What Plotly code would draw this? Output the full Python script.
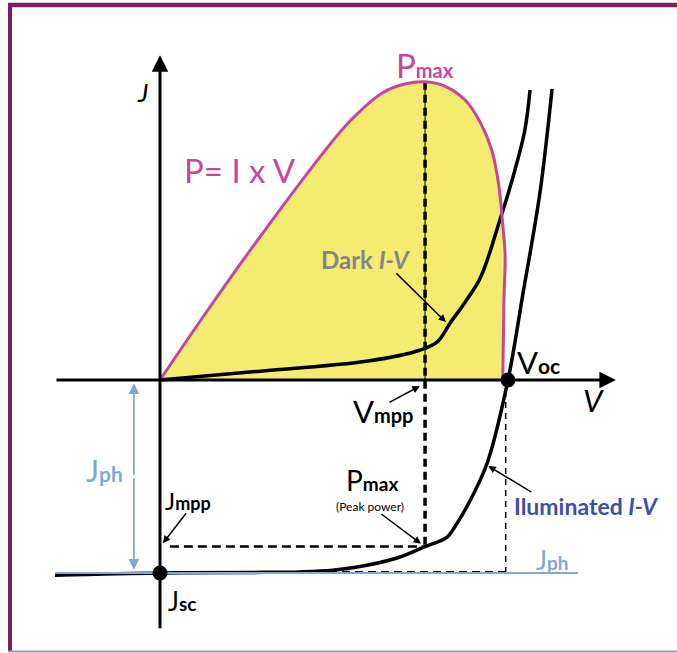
import plotly.graph_objects as go

# ---- Solar cell J-V characteristics (V in volts, J in mA/cm^2, P in mW/cm^2) ----
V_OC = 0.600
J_SC = -35.0
J_PH = 35.0
V_MPP = 0.457
J_MPP = -30.2

# Illuminated J-V curve
illum_v = [-0.181, 0.000, 0.155, 0.241, 0.298, 0.357, 0.414, 0.457, 0.478,
           0.495, 0.512, 0.529, 0.564, 0.600, 0.626, 0.655, 0.676]
illum_j = [-35.4, -35.0, -34.9, -34.8, -34.5, -33.6, -32.1, -30.2, -29.4,
           -28.5, -26.0, -23.0, -15.1, 0.0, 15.8, 33.9, 52.8]

# Dark J-V curve
dark_v = [0.000, 0.155, 0.359, 0.448, 0.478, 0.500, 0.526, 0.553, 0.586,
          0.612, 0.629, 0.638]
dark_j = [0.0, 1.45, 3.45, 5.4, 6.9, 10.3, 14.1, 18.7, 29.0, 38.1, 45.3, 52.6]

# Output power P = I x V
pwr_v = [0.000, 0.069, 0.138, 0.207, 0.276, 0.328, 0.384, 0.422, 0.457,
         0.491, 0.526, 0.552, 0.572, 0.584, 0.591, 0.595, 0.593, 0.591]
pwr_p = [0.0, 2.72, 5.35, 7.89, 10.33, 12.00, 13.30, 13.70, 13.81,
         13.61, 12.96, 11.94, 10.65, 9.03, 7.18, 5.79, 3.70, 0.0]
P_MAX = max(pwr_p)

# ---- layout scales ----
W, H = 677, 653
PX_PER_V = 580.0          # horizontal pixels per volt
PX_PER_J = 5.514          # vertical pixels per mA/cm^2
PX_PER_P = 21.6           # vertical pixels per mW/cm^2
ORIGIN_X, ORIGIN_Y = 160.0, 380.0
P_TO_J = PX_PER_P / PX_PER_J   # power drawn on the current axis

x_range = [-ORIGIN_X / PX_PER_V, (W - ORIGIN_X) / PX_PER_V]
y_range = [-(H - ORIGIN_Y) / PX_PER_J, ORIGIN_Y / PX_PER_J]

MAGENTA = "#C4479E"
YELLOW = "#F4EC70"
GRAY = "#858585"
BLUE_TXT = "#3E4FA4"
LIGHT_BLUE = "#7FA7DB"
FRAME = "#7A1E5E"
FONT = "Lato"
SMOOTH = 1.0

pwr_j = [p * P_TO_J for p in pwr_p]

fig = go.Figure()

# yellow power area
fig.add_trace(go.Scatter(x=pwr_v, y=pwr_j, mode="lines", fill="toself",
                         fillcolor=YELLOW, line=dict(width=0, shape="spline", smoothing=SMOOTH),
                         hoverinfo="skip"))

# thin guide inside the power area
fig.add_trace(go.Scatter(x=[V_MPP, V_MPP], y=[P_MAX * P_TO_J, 0], mode="lines",
                         line=dict(color="black", width=1), hoverinfo="skip"))

# dashed guides
fig.add_trace(go.Scatter(x=[V_MPP, V_MPP], y=[P_MAX * P_TO_J, J_MPP], mode="lines",
                         line=dict(color="black", width=3.5, dash="8px,5px"), hoverinfo="skip"))
fig.add_trace(go.Scatter(x=[0.017, V_MPP], y=[J_MPP, J_MPP], mode="lines",
                         line=dict(color="black", width=2.5, dash="9px,5px"), hoverinfo="skip"))
fig.add_trace(go.Scatter(x=[V_OC - 0.004, V_OC - 0.004], y=[0, J_SC + 0.2], mode="lines",
                         line=dict(color="black", width=1.5, dash="6px,5px"), hoverinfo="skip"))
fig.add_trace(go.Scatter(x=[0, V_OC - 0.004], y=[J_SC + 0.2, J_SC + 0.2], mode="lines",
                         line=dict(color="black", width=2, dash="8px,5px"), hoverinfo="skip"))

# dark curve
fig.add_trace(go.Scatter(x=dark_v, y=dark_j, mode="lines",
                         line=dict(color="black", width=3.5, shape="spline", smoothing=SMOOTH),
                         hoverinfo="skip"))

# power curve
fig.add_trace(go.Scatter(x=pwr_v, y=pwr_j, mode="lines",
                         line=dict(color=MAGENTA, width=3, shape="spline", smoothing=SMOOTH),
                         hoverinfo="skip"))

# illuminated curve
fig.add_trace(go.Scatter(x=illum_v, y=illum_j, mode="lines",
                         line=dict(color="black", width=3.5, shape="spline", smoothing=SMOOTH),
                         hoverinfo="skip"))

# photocurrent level
fig.add_trace(go.Scatter(x=[illum_v[0], 0.721], y=[-J_PH, -J_PH], mode="lines",
                         line=dict(color=LIGHT_BLUE, width=2), hoverinfo="skip"))

# Jsc and Voc points
fig.add_trace(go.Scatter(x=[0, V_OC], y=[J_SC, 0], mode="markers",
                         marker=dict(color="black", size=15), hoverinfo="skip"))


def arrow(x, y, ax, ay, color="black", width=1.5, head=2, size=1.0):
    fig.add_annotation(x=x, y=y, ax=ax, ay=ay, xref="x", yref="y", axref="x", ayref="y",
                       text="", showarrow=True, arrowhead=head, arrowsize=size,
                       arrowwidth=width, arrowcolor=color)


def label(x, y, text, size, color="black", xanchor="center", italic=False, bold=False):
    fig.add_annotation(x=x, y=y, xref="x", yref="y", text=text, showarrow=False,
                       xanchor=xanchor, yanchor="middle",
                       font=dict(family=FONT, size=size, color=color,
                                 style="italic" if italic else "normal",
                                 weight="bold" if bold else "normal"))


def sub(main, low, low_size):
    return f"{main}<span style='font-size:{low_size}px;font-weight:bold'>{low}</span>"


# axes with arrowheads
arrow(0.786, 0, illum_v[0], 0, width=3, head=2, size=1.1)
arrow(0, 58.9, 0, -45.3, width=3, head=2, size=1.1)

# Jph span
arrow(-0.045, -0.6, -0.045, -17.5, color=LIGHT_BLUE, width=1.8, head=2, size=1.2)
arrow(-0.045, -34.4, -0.045, -17.5, color=LIGHT_BLUE, width=1.8, head=2, size=1.2)

# callout arrows
arrow(0.493, 10.5, 0.405, 19.6)
arrow(0.448, -1.1, 0.393, -4.2)
arrow(0.005, -29.6, 0.047, -23.9)
arrow(0.450, -29.7, 0.379, -24.1)
arrow(0.566, -15.6, 0.643, -20.5)

# text
label(-0.031, 52.2, "J", 26, italic=True)
label(0.747, -3.6, "V", 31, italic=True)
label(0.138, 38.1, "P= I x V", 33, color=MAGENTA)
label(V_MPP, 57.1, sub("P", "max", 20), 33, color=MAGENTA)
label(0.355, 21.8, "Dark <i>I-V</i>", 24, color=GRAY, bold=True)
label(0.612, 3.3, sub("V", "oc", 21), 31, xanchor="left")
label(0.384, -5.6, sub("V", "mpp", 20), 31)
label(-0.095, -16.3, sub("J", "ph", 21), 31, color=LIGHT_BLUE)
label(0.006, -21.9, sub("J", "mpp", 18), 24, xanchor="left")
label(0.010, -40.0, sub("J", "sc", 19), 26, xanchor="left")
label(0.366, -18.2, sub("P", "max", 19), 28)
label(0.362, -22.9, "(Peak power)", 12)
label(0.607, -22.9, "Iluminated <i>I-V</i>", 23, color=BLUE_TXT, xanchor="left", bold=True)
label(0.676, -32.6, sub("J", "ph", 19), 26, color=LIGHT_BLUE)

# frame
fig.add_shape(type="line", xref="paper", yref="paper", x0=8 / W, x1=1, y0=1 - 5 / H, y1=1 - 5 / H,
              line=dict(color=FRAME, width=4.5))
fig.add_shape(type="line", xref="paper", yref="paper", x0=10 / W, x1=10 / W, y0=1 - 3 / H, y1=1 / H,
              line=dict(color=FRAME, width=4))
fig.add_shape(type="line", xref="paper", yref="paper", x0=8 / W, x1=1, y0=1.5 / H, y1=1.5 / H,
              line=dict(color="#B58CAE", width=2))

fig.update_layout(
    width=W, height=H, margin=dict(l=0, r=0, t=0, b=0),
    paper_bgcolor="white", plot_bgcolor="white", showlegend=False,
    xaxis=dict(range=x_range, visible=False, fixedrange=True),
    yaxis=dict(range=y_range, visible=False, fixedrange=True),
)

fig.write_html("out.html")
